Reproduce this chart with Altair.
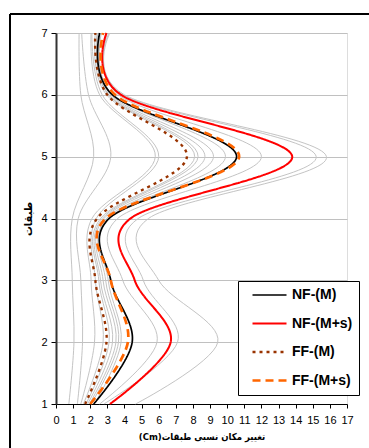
import altair as alt
import pandas as pd

floors = [1, 2, 3, 4, 5, 6, 7]

series_names = ["NF-(M)", "NF-(M+s)", "FF-(M)", "FF-(M+s)"]
nf_m = [2.2, 4.45, 3.2, 3.1, 10.55, 3.3, 2.55]
nf_ms = [3.15, 6.7, 4.6, 4.35, 13.8, 3.8, 2.95]
ff_m = [1.7, 2.95, 2.3, 2.4, 7.65, 3.0, 2.3]
ff_ms = [2.0, 4.2, 3.2, 2.9, 10.7, 3.45, 2.75]

g01 = [0.75, 1.05, 0.95, 0.95, 2.2, 1.45, 1.35]
g02 = [1.25, 1.55, 1.45, 1.3, 3.2, 1.9, 1.5]
g03 = [1.45, 2.25, 2.05, 2.1, 5.8, 2.55, 2.05]
g04 = [1.6, 2.75, 2.3, 2.35, 6.0, 2.7, 2.1]
g05 = [1.75, 3.1, 2.5, 2.6, 8.1, 2.95, 2.3]
g06 = [1.85, 3.3, 2.6, 2.7, 8.3, 3.05, 2.4]
g07 = [1.95, 3.5, 2.75, 2.8, 8.7, 3.1, 2.45]
g08 = [2.05, 3.65, 2.9, 2.95, 9.2, 3.2, 2.6]
g09 = [2.25, 3.8, 3.05, 3.05, 9.9, 3.3, 2.65]
g10 = [2.55, 5.9, 3.9, 3.6, 12.0, 3.65, 3.0]
g11 = [2.8, 7.1, 5.1, 4.8, 15.2, 3.9, 3.1]
g12 = [4.65, 9.45, 6.0, 5.4, 15.8, 4.0, 3.15]
gray_series = [g01, g02, g03, g04, g05, g06, g07, g08, g09, g10, g11, g12]

x_ticks = list(range(0, 18))
y_ticks = floors

main_rows = []
for name, vals in zip(series_names, [nf_m, nf_ms, ff_m, ff_ms]):
    for f, v in zip(floors, vals):
        main_rows.append({"series": name, "floor": f, "disp": v})
main_df = pd.DataFrame(main_rows)

gray_rows = []
for i, vals in enumerate(gray_series):
    for f, v in zip(floors, vals):
        gray_rows.append({"rec": f"g{i}", "floor": f, "disp": v})
gray_df = pd.DataFrame(gray_rows)

W, H = 291, 371
FONT = "Liberation Sans, Arial, DejaVu Sans"
AR_FONT = "DejaVu Sans Condensed, DejaVu Sans"
RLE, PDF = "\u202B", "\u202C"

x_enc = alt.X(
    "disp:Q",
    scale=alt.Scale(domain=[0, 17], nice=False, zero=False),
    axis=alt.Axis(
        values=x_ticks, grid=False, title=RLE + "تغییر مکان نسبی طبقات(Cm)" + PDF,
        domainColor="#000000", domainWidth=1, tickColor="#000000", tickSize=4,
        labelFont=FONT, labelFontSize=11, labelColor="#000000", labelPadding=6,
        labelFlush=False, labelOverlap=False,
        titleFont=AR_FONT, titleFontSize=9.5, titleFontWeight="bold",
        titleColor="#000000", titlePadding=6,
    ),
)
y_enc = alt.Y(
    "floor:Q",
    scale=alt.Scale(domain=[1, 7], nice=False, zero=False),
    axis=alt.Axis(
        values=y_ticks, grid=True, gridColor="#c0c0c0", gridWidth=1,
        title="طبقات", domainColor="#333333", domainWidth=2,
        tickColor="#000000", tickSize=5, labelFont=FONT, labelFontSize=11,
        labelColor="#000000", labelPadding=4, labelFlush=False,
        titleFont=AR_FONT, titleFontSize=11, titleFontWeight="bold",
        titleColor="#000000", titlePadding=7,
    ),
)

gray = alt.Chart(gray_df).mark_line(
    interpolate="cardinal", color="#c4c4c4", strokeWidth=1
).encode(x=x_enc, y=y_enc, detail="rec:N", order="floor:Q")

leg = alt.Legend(
    title=None, orient="none", legendX=182, legendY=248,
    strokeColor="#000000", fillColor="#ffffff", padding=6,
    symbolType="stroke", symbolSize=1156, symbolOffset=7,
    clipHeight=16, rowPadding=12.5,
    labelFont=FONT, labelFontSize=14, labelFontWeight="bold",
    labelColor="#000000", labelOffset=4,
)

main = alt.Chart(main_df).mark_line(interpolate="cardinal").encode(
    x=x_enc, y=y_enc,
    color=alt.Color("series:N", sort=series_names,
                    scale=alt.Scale(domain=series_names,
                                    range=["#000000", "#ff0000", "#993300", "#ff6600"]),
                    legend=leg),
    strokeDash=alt.StrokeDash("series:N", sort=series_names,
                              scale=alt.Scale(domain=series_names,
                                              range=[[1, 0], [1, 0], [3, 4], [8, 5]]),
                              legend=leg),
    strokeWidth=alt.StrokeWidth("series:N", sort=series_names,
                                scale=alt.Scale(domain=series_names,
                                                range=[1.7, 2.7, 1.8, 3]),
                                legend=leg),
    order="floor:Q",
)

frame_left = alt.Chart(main_df).mark_rule(color="#000000", strokeWidth=1).encode(
    x=alt.value(-46), y=alt.value(-19), y2=alt.value(H + 50)
)
frame_top = alt.Chart(main_df).mark_rule(color="#000000", strokeWidth=1).encode(
    x=alt.value(-46), x2=alt.value(W + 30), y=alt.value(-19)
)

chart = alt.layer(gray, main, frame_left, frame_top).properties(
    width=W, height=H,
    autosize=alt.AutoSizeParams(type="none"),
    padding={"left": 56, "top": 33, "right": 22, "bottom": 44},
).configure_view(stroke="#a0a0a0", strokeWidth=1).configure(background="#ffffff")

chart.save("out.html", embed_options={"renderer": "svg", "actions": False})
